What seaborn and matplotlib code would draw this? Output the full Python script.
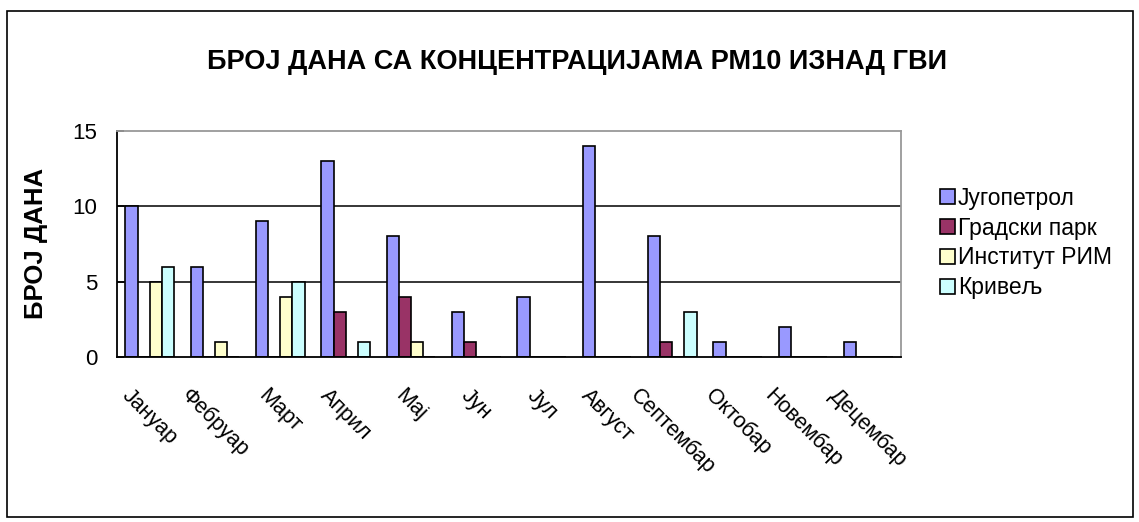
import pandas as pd
import matplotlib.pyplot as plt
import matplotlib.patches as mpatches
import seaborn as sns

meseci = ["Јануар", "Фебруар", "Март", "Април", "Мај", "Јун", "Јул", "Август",
          "Септембар", "Октобар", "Новембар", "Децембар"]
jugopetrol = [10, 6, 9, 13, 8, 3, 4, 14, 8, 1, 2, 1]
gradski_park = [0, 0, 0, 3, 4, 1, 0, 0, 1, 0, 0, 0]
institut_rim = [5, 1, 4, 0, 1, 0, 0, 0, 0, 0, 0, 0]
krivelj = [6, 0, 5, 1, 0, 0, 0, 0, 3, 0, 0, 0]
stanice = ["Југопетрол", "Градски парк", "Институт РИМ", "Кривељ"]
boje = ["#9999FF", "#993366", "#FFFFCC", "#CCFFFF"]

dados = pd.DataFrame({
    "mesec": meseci * 4,
    "stanica": [s for s in stanice for _ in meseci],
    "dani": jugopetrol + gradski_park + institut_rim + krivelj,
})

sns.set_style("white")
plt.rcParams["font.family"] = ["Liberation Sans", "DejaVu Sans"]
plt.rcParams["text.color"] = "black"
plt.rcParams["xtick.color"] = "black"
plt.rcParams["ytick.color"] = "black"

fig = plt.figure(figsize=(11.39, 5.22), dpi=100)
ax = fig.add_axes([117 / 1139, 1 - 357 / 522, (901 - 117) / 1139, (357 - 131) / 522])

sns.barplot(data=dados, x="mesec", y="dani", hue="stanica", order=meseci,
            hue_order=stanice, palette=boje, width=0.74, edgecolor="black",
            linewidth=1.2, saturation=1, ax=ax)

ax.set_ylim(0, 15)
ax.set_xlim(-0.5, 11.5)
ax.set_yticks([0, 5, 10, 15])
for v in [5, 10]:
    ax.axhline(v, color="black", lw=1.1, zorder=0)

ax.set_xlabel("")
ax.set_ylabel("")
ax.set_xticks(range(12))
ax.set_xticklabels(meseci, rotation=-45, ha="center", va="top", fontsize=15.5)
ax.set_xticks([i + 0.5 for i in range(12)], minor=True)
ax.tick_params(axis="x", which="major", length=0, pad=20)
ax.tick_params(axis="x", which="minor", direction="in", length=5, width=1.2, color="black")
ax.tick_params(axis="y", direction="in", length=5, width=1.2, color="black",
               labelsize=16, pad=14, left=True)

for s in ["left", "bottom"]:
    ax.spines[s].set_color("black")
    ax.spines[s].set_linewidth(1.3)
for s in ["top", "right"]:
    ax.spines[s].set_color("#999999")
    ax.spines[s].set_linewidth(1.3)

sns.move_legend(ax, "center left", bbox_to_anchor=(0.815, 1 - 243 / 522),
                bbox_transform=fig.transFigure, title=None, frameon=False,
                fontsize=16.5, handlelength=0.65, handleheight=0.65,
                handletextpad=0.15, labelspacing=0.3, borderpad=0)

fig.text(0.507, 1 - 62 / 522, "БРОЈ ДАНА СА КОНЦЕНТРАЦИЈАМА РМ10 ИЗНАД ГВИ",
         ha="center", va="center", fontsize=19.5, fontweight="bold")
fig.text(36 / 1139, 1 - 243 / 522, "БРОЈ ДАНА", rotation=90, ha="center",
         va="center", fontsize=18.5, fontweight="bold")

fig.patches.append(mpatches.Rectangle((7 / 1139, 1 - 517 / 522), (1133 - 7) / 1139,
                                      (517 - 11) / 522, transform=fig.transFigure,
                                      fill=False, edgecolor="black", lw=1.2))

plt.savefig("out.png", dpi=100)
